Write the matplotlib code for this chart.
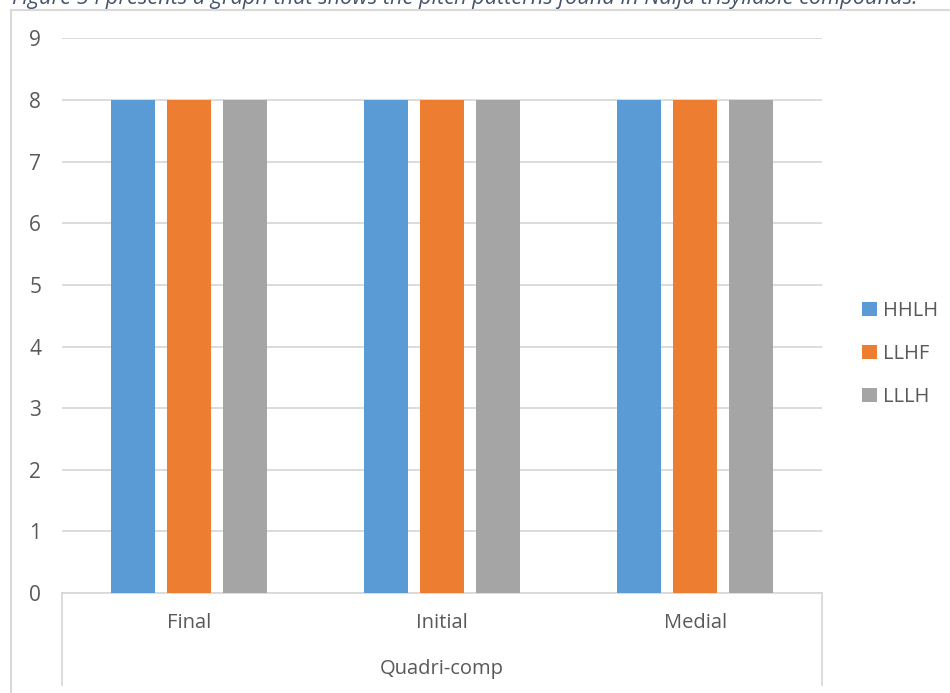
import matplotlib
matplotlib.use('Agg')
import matplotlib.pyplot as plt
import numpy as np

plt.rcParams['font.family'] = ['Open Sans', 'DejaVu Sans']

categories = ['Final', 'Initial', 'Medial']
group_label = 'Quadri-comp'
series_names = ['HHLH', 'LLHF', 'LLLH']
series_values = [
    [8, 8, 8],  # HHLH
    [8, 8, 8],  # LLHF
    [8, 8, 8],  # LLLH
]
colors = ['#5B9BD5', '#ED7D31', '#A5A5A5']
caption = 'Figure 5 I presents a graph that shows the pitch patterns found in Naija trisyllable compounds.'

W, H = 950, 693
fig = plt.figure(figsize=(W / 100, H / 100), dpi=100)

# chart frame (left and top edges visible)
fig.add_artist(plt.Line2D([11 / W, 11 / W], [0, 1 - 10 / H], color='#d9d9d9', lw=1.5))
fig.add_artist(plt.Line2D([11 / W, 1], [1 - 10 / H, 1 - 10 / H], color='#d9d9d9', lw=1.5))

# caption, cut by the top edge as in the source page
fig.text(12 / W, 1 - 4 / H, caption, fontsize=15.7, style='italic', color='#44546A',
         ha='left', va='baseline')

ax = fig.add_axes([62 / W, 1 - 593 / H, (822 - 62) / W, (593 - 38.4) / H])

x = np.arange(len(categories))
width = 0.174
step = 0.221
for i, (name, vals) in enumerate(zip(series_names, series_values)):
    ax.bar(x + (i - 1) * step, vals, width, color=colors[i], label=name, zorder=3)

ax.set_xlim(-0.5, len(categories) - 0.5)
ax.set_ylim(0, 9)
ax.set_yticks(range(0, 10))
ax.yaxis.grid(True, color='#d9d9d9', lw=1.3, zorder=0)
for s in ['left', 'right', 'top']:
    ax.spines[s].set_visible(False)
ax.spines['bottom'].set_color('#d9d9d9')
ax.spines['bottom'].set_linewidth(1.3)
ax.tick_params(axis='y', length=0, pad=15, labelsize=15, labelcolor='#595959')
ax.set_xticks([])

# multi-level category axis
for i, c in enumerate(categories):
    ax.text(x[i], -0.49, c, ha='center', va='center', fontsize=14.5, color='#595959',
            clip_on=False)
ax.text(np.mean(x), -1.24, group_label, ha='center', va='center', fontsize=14.5,
        color='#595959', clip_on=False)
for xv in [-0.5, len(categories) - 0.5]:
    ax.plot([xv, xv], [0, -1.49], color='#d9d9d9', lw=1.3, clip_on=False)

leg = fig.legend(loc='center left', bbox_to_anchor=(862 / W, 1 - 354 / H), frameon=False,
                 fontsize=14.5, handlelength=0.72, handleheight=0.72, handletextpad=0.3,
                 labelspacing=1.15, borderpad=0, borderaxespad=0)
for t in leg.get_texts():
    t.set_color('#595959')

fig.savefig('out.png', dpi=100)
